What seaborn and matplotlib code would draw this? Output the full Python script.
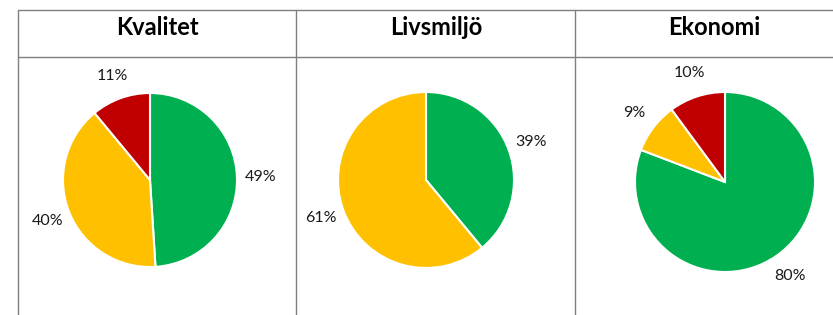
import numpy as np
import matplotlib
matplotlib.use("Agg")
import matplotlib.pyplot as plt
from matplotlib.lines import Line2D
import seaborn as sns

# ── Data ─────────────────────────────────────────────────────────────────────
titles = ["Kvalitet", "Livsmiljö", "Ekonomi"]
kvalitet = [49, 40, 11]
livsmiljo = [39, 61, 0]
ekonomi = [80, 9, 10]
colors = ["#00B050", "#FFC000", "#C00000"]

sns.set_theme(style="white")
plt.rcParams["font.family"] = ["Lato", "DejaVu Sans"]

W, H = 833, 315
fig = plt.figure(figsize=(W / 100, H / 100), dpi=100)
fig.patch.set_facecolor("white")


def fx(x):
    return x / W


def fy(y):
    return 1 - y / H


# ── Table grid ───────────────────────────────────────────────────────────────
grid = "#7f7f7f"
for x in [18, 296, 575]:
    fig.add_artist(Line2D([fx(x), fx(x)], [fy(10), fy(315)], color=grid, lw=1))
for y in [10, 57]:
    fig.add_artist(Line2D([fx(18), fx(833)], [fy(y), fy(y)], color=grid, lw=1))

# ── Pies ─────────────────────────────────────────────────────────────────────
panels = [
    (titles[0], kvalitet, 150, 180, 87),
    (titles[1], livsmiljo, 426, 180, 88),
    (titles[2], ekonomi, 725, 182, 90),
]
title_x = [157, 436, 714]

for (title, vals, cx, cy, r), tx in zip(panels, title_x):
    fig.text(fx(tx), fy(35), title, ha="center", va="baseline",
             fontsize=17, fontweight="bold", color="black")
    keep = [(v, c) for v, c in zip(vals, colors) if v > 0]
    v = [k[0] for k in keep]
    c = [k[1] for k in keep]
    ax = fig.add_axes([fx(cx - r), fy(cy + r), 2 * r / W, 2 * r / H])
    wedges, texts = ax.pie(v, colors=c, startangle=90, counterclock=False,
                           labels=[f"{x}%" for x in v], labeldistance=1.27,
                           wedgeprops=dict(edgecolor="white", linewidth=1.5),
                           textprops=dict(fontsize=11.5, color="#1a1a1a"))
    for t in texts:
        t.set_ha("center")
        t.set_va("center")
    ax.set_xlim(-1, 1)
    ax.set_ylim(-1, 1)
    ax.set_aspect("equal")
    ax.axis("off")

plt.savefig("out.png", dpi=100)
plt.close()
